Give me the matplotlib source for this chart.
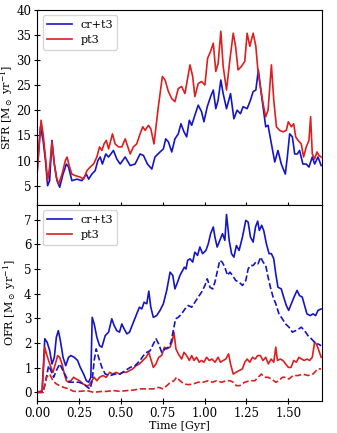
import numpy as np
import matplotlib
matplotlib.use("Agg")
import matplotlib.pyplot as plt
from matplotlib.ticker import FormatStrFormatter

plt.rcParams['font.family'] = ['DejaVu Serif']
plt.rcParams['mathtext.fontset'] = 'dejavuserif'

# ---- SFR panel ----
t_sfr_cr = [0, 0.02, 0.036, 0.05, 0.063, 0.075, 0.089, 0.103, 0.119, 0.135, 0.155, 0.175, 0.188, 0.208,
            0.238, 0.268, 0.294, 0.308, 0.327, 0.347, 0.363, 0.377, 0.39, 0.41, 0.427, 0.456, 0.476, 0.496,
            0.526, 0.556, 0.585, 0.615, 0.635, 0.659, 0.685, 0.704, 0.734, 0.754, 0.768, 0.784, 0.804, 0.823,
            0.843, 0.859, 0.877, 0.893, 0.909, 0.923, 0.942, 0.962, 0.982, 0.996, 1.016, 1.036, 1.052, 1.067,
            1.081, 1.097, 1.111, 1.131, 1.155, 1.175, 1.194, 1.214, 1.23, 1.254, 1.274, 1.29, 1.306, 1.321,
            1.333, 1.349, 1.365, 1.379, 1.399, 1.419, 1.438, 1.458, 1.482, 1.494, 1.508, 1.524, 1.538, 1.554,
            1.567, 1.587, 1.607, 1.623, 1.643, 1.657, 1.677, 1.696]
sfr_cr = [7.7, 16.7, 14.0, 10.0, 5.0, 6.0, 14.0, 9.3, 6.0, 4.7, 7.3, 9.3, 8.7, 6.0,
          6.3, 6.0, 7.3, 6.3, 7.3, 8.0, 10.0, 10.7, 9.3, 11.3, 10.7, 12.0, 10.3, 9.3,
          10.7, 9.0, 9.3, 11.3, 11.0, 9.3, 8.3, 10.7, 11.7, 12.3, 14.3, 13.7, 11.7, 14.3,
          15.3, 17.3, 15.7, 14.7, 18.0, 17.0, 19.0, 21.0, 19.7, 17.7, 20.7, 22.7, 24.0, 20.3,
          22.0, 26.0, 23.3, 20.3, 23.3, 18.3, 20.0, 19.3, 20.7, 20.3, 22.0, 23.7, 24.0, 28.0,
          24.7, 20.7, 16.7, 17.0, 13.3, 9.7, 12.0, 9.3, 7.3, 10.7, 15.3, 14.7, 11.3, 11.3,
          12.0, 9.3, 9.3, 8.7, 10.7, 9.3, 10.7, 9.0]

t_sfr_pt = [0, 0.024, 0.036, 0.05, 0.063, 0.075, 0.089, 0.1, 0.115, 0.129, 0.149, 0.169, 0.179, 0.194,
            0.208, 0.228, 0.258, 0.278, 0.298, 0.317, 0.337, 0.357, 0.373, 0.387, 0.4, 0.413, 0.427, 0.45,
            0.466, 0.486, 0.506, 0.526, 0.542, 0.556, 0.575, 0.595, 0.615, 0.631, 0.645, 0.665, 0.679, 0.698,
            0.724, 0.748, 0.764, 0.784, 0.804, 0.823, 0.843, 0.863, 0.883, 0.897, 0.913, 0.929, 0.942, 0.962,
            0.982, 1.002, 1.018, 1.036, 1.052, 1.067, 1.081, 1.097, 1.111, 1.131, 1.151, 1.171, 1.185, 1.2,
            1.22, 1.24, 1.254, 1.27, 1.29, 1.306, 1.319, 1.333, 1.349, 1.365, 1.379, 1.399, 1.413, 1.429,
            1.448, 1.468, 1.488, 1.5, 1.518, 1.532, 1.544, 1.558, 1.577, 1.591, 1.607, 1.623, 1.633, 1.643,
            1.657, 1.671, 1.683, 1.696]
sfr_pt = [7.3, 18.0, 15.3, 10.7, 6.0, 8.7, 13.7, 10.0, 6.7, 5.3, 7.3, 10.0, 10.7, 8.7,
          7.3, 7.0, 6.7, 6.3, 8.0, 8.7, 9.3, 10.7, 12.7, 12.0, 13.3, 14.0, 12.3, 15.3,
          13.3, 12.7, 12.7, 14.3, 12.7, 11.3, 12.7, 13.3, 15.3, 16.7, 16.0, 17.0, 16.3, 13.3,
          20.7, 26.7, 26.0, 23.7, 22.3, 21.7, 24.3, 24.7, 23.3, 26.0, 29.0, 26.7, 22.7, 25.3,
          25.7, 25.0, 30.3, 31.7, 33.3, 27.7, 29.3, 35.7, 28.7, 24.0, 30.0, 35.3, 32.7, 28.0,
          28.7, 29.7, 35.3, 32.7, 35.3, 32.7, 27.7, 24.7, 21.3, 18.7, 20.0, 29.0, 22.0, 16.7,
          16.0, 15.7, 16.0, 17.7, 16.7, 17.3, 14.7, 14.0, 13.3, 10.7, 12.7, 14.0, 18.7, 11.3,
          10.3, 11.7, 11.0, 10.7]

# ---- OFR panel ----
t_ofr_cr = [0, 0.03, 0.046, 0.06, 0.075, 0.089, 0.103, 0.115, 0.127, 0.139, 0.155, 0.171, 0.188, 0.202,
            0.222, 0.242, 0.258, 0.278, 0.294, 0.308, 0.321, 0.329, 0.341, 0.357, 0.373, 0.387, 0.407, 0.427,
            0.446, 0.46, 0.476, 0.492, 0.506, 0.52, 0.536, 0.552, 0.571, 0.595, 0.611, 0.625, 0.639, 0.655,
            0.667, 0.679, 0.694, 0.714, 0.734, 0.754, 0.774, 0.794, 0.81, 0.823, 0.839, 0.853, 0.869, 0.879,
            0.889, 0.899, 0.913, 0.929, 0.942, 0.958, 0.972, 0.988, 1.008, 1.022, 1.036, 1.052, 1.062, 1.075,
            1.091, 1.107, 1.121, 1.131, 1.147, 1.161, 1.175, 1.19, 1.206, 1.226, 1.246, 1.26, 1.274, 1.29,
            1.304, 1.317, 1.327, 1.341, 1.353, 1.369, 1.385, 1.399, 1.413, 1.425, 1.438, 1.458, 1.472, 1.488,
            1.502, 1.518, 1.534, 1.552, 1.567, 1.583, 1.597, 1.611, 1.631, 1.647, 1.663, 1.677, 1.696]
ofr_cr = [0, 0, 2.17, 2.03, 1.7, 1.15, 1.42, 2.23, 2.5, 2.1, 1.42, 1.08, 1.42, 1.49,
          1.42, 1.29, 1.01, 0.74, 0.47, 0.41, 0.61, 3.04, 2.77, 2.23, 1.89, 1.83, 2.3, 2.44,
          2.98, 2.71, 2.5, 2.44, 2.77, 2.57, 2.37, 2.44, 2.77, 3.18, 3.45, 3.38, 3.65, 3.59,
          4.1, 3.45, 3.04, 3.11, 3.32, 3.59, 4.13, 4.87, 4.74, 4.19, 4.47, 4.74, 4.94, 5.07,
          5.0, 5.35, 5.41, 5.28, 5.68, 5.55, 5.89, 5.62, 5.75, 6.02, 6.43, 6.7, 6.29, 5.89,
          6.16, 6.43, 6.16, 7.21, 6.16, 5.62, 5.48, 5.95, 5.75, 6.29, 6.97, 6.9, 6.29, 6.09,
          6.7, 6.94, 6.56, 6.77, 6.56, 6.02, 5.62, 5.62, 5.41, 4.8, 4.26, 4.19, 3.86, 3.52,
          3.32, 3.59, 3.86, 4.13, 3.92, 3.86, 3.52, 3.18, 3.11, 3.18, 3.11, 3.32, 3.38]

t_ofr_cr_d = [0, 0.036, 0.05, 0.069, 0.083, 0.099, 0.115, 0.135, 0.155, 0.175, 0.194, 0.218, 0.248, 0.278,
              0.302, 0.317, 0.329, 0.341, 0.353, 0.367, 0.387, 0.407, 0.437, 0.466, 0.496, 0.526, 0.556, 0.585,
              0.615, 0.635, 0.655, 0.675, 0.694, 0.71, 0.726, 0.744, 0.764, 0.784, 0.8, 0.813, 0.827, 0.843,
              0.863, 0.883, 0.903, 0.923, 0.942, 0.962, 0.982, 1.002, 1.016, 1.032, 1.048, 1.062, 1.075, 1.091,
              1.105, 1.121, 1.137, 1.151, 1.167, 1.186, 1.206, 1.226, 1.246, 1.26, 1.274, 1.29, 1.306, 1.319,
              1.335, 1.349, 1.365, 1.379, 1.393, 1.409, 1.425, 1.444, 1.464, 1.484, 1.504, 1.524, 1.544, 1.563,
              1.577, 1.597, 1.617, 1.637, 1.657, 1.677, 1.696]
ofr_cr_d = [0, 0, 0.41, 1.08, 0.88, 0.61, 0.88, 1.15, 0.88, 0.61, 0.41, 0.41, 0.41, 0.34,
            0.2, 0.14, 0.47, 1.29, 1.76, 1.42, 1.01, 0.74, 0.68, 0.74, 0.74, 0.88, 1.01, 1.08,
            1.29, 1.49, 1.62, 1.69, 1.96, 2.17, 1.96, 1.62, 1.76, 1.83, 2.03, 2.5, 2.98, 3.04,
            3.18, 3.38, 3.52, 3.45, 3.65, 3.86, 4.06, 4.33, 4.6, 4.26, 4.19, 4.47, 4.87, 5.35,
            5.28, 5.07, 4.74, 4.87, 4.74, 4.53, 4.47, 4.33, 4.53, 5.0, 5.14, 5.14, 5.28, 5.21,
            5.48, 5.28, 5.14, 4.67, 4.26, 3.86, 3.59, 3.18, 2.98, 2.77, 2.64, 2.44, 2.5, 2.57,
            2.64, 2.5, 2.3, 2.17, 2.03, 1.96, 1.89]

t_ofr_pt = [0, 0.03, 0.046, 0.056, 0.069, 0.083, 0.095, 0.109, 0.123, 0.135, 0.149, 0.163, 0.175, 0.188,
            0.202, 0.218, 0.234, 0.254, 0.274, 0.294, 0.308, 0.327, 0.341, 0.357, 0.373, 0.393, 0.413, 0.433,
            0.452, 0.472, 0.492, 0.512, 0.532, 0.552, 0.571, 0.591, 0.611, 0.631, 0.651, 0.667, 0.679, 0.694,
            0.71, 0.726, 0.744, 0.76, 0.774, 0.794, 0.808, 0.817, 0.829, 0.843, 0.863, 0.877, 0.893, 0.909,
            0.923, 0.937, 0.952, 0.968, 0.982, 0.996, 1.012, 1.028, 1.044, 1.062, 1.081, 1.095, 1.111, 1.127,
            1.143, 1.155, 1.171, 1.187, 1.206, 1.226, 1.24, 1.254, 1.27, 1.286, 1.302, 1.317, 1.333, 1.349,
            1.365, 1.381, 1.397, 1.413, 1.425, 1.435, 1.452, 1.468, 1.484, 1.5, 1.516, 1.532, 1.548, 1.563,
            1.579, 1.595, 1.611, 1.627, 1.643, 1.657, 1.667, 1.679, 1.696]
ofr_pt = [0, 0.07, 1.83, 1.56, 1.29, 1.01, 0.81, 1.15, 1.49, 1.42, 1.15, 0.74, 0.47, 0.41,
          0.47, 0.61, 0.54, 0.47, 0.34, 0.27, 0.27, 0.47, 0.61, 0.47, 0.61, 0.68, 0.61, 0.81,
          0.74, 0.81, 0.74, 0.81, 0.81, 0.88, 0.95, 1.08, 1.15, 1.29, 1.42, 1.62, 1.35, 1.01,
          1.15, 1.42, 1.49, 1.83, 1.76, 1.83, 2.1, 2.44, 1.76, 1.56, 1.35, 1.62, 1.49, 1.29,
          1.49, 1.29, 1.42, 1.22, 1.29, 1.22, 1.42, 1.29, 1.35, 1.22, 1.42, 1.22, 1.29, 1.35,
          1.56, 1.15, 0.74, 0.81, 0.88, 0.95, 1.22, 1.35, 1.22, 1.42, 1.35, 1.49, 1.49, 1.29,
          1.42, 1.15, 1.35, 1.22, 1.83, 1.29, 1.35, 1.29, 1.15, 1.01, 1.01, 1.29, 1.22, 1.42,
          1.35, 1.29, 1.35, 1.29, 1.42, 2.03, 1.96, 1.76, 1.42]

t_ofr_pt_d = [0, 0.036, 0.056, 0.075, 0.095, 0.115, 0.135, 0.159, 0.188, 0.218, 0.258, 0.298, 0.337, 0.377,
              0.417, 0.456, 0.496, 0.536, 0.575, 0.615, 0.655, 0.694, 0.724, 0.754, 0.774, 0.798, 0.817, 0.833,
              0.853, 0.877, 0.903, 0.933, 0.962, 0.992, 1.022, 1.048, 1.071, 1.101, 1.131, 1.151, 1.171, 1.19,
              1.21, 1.24, 1.27, 1.3, 1.32, 1.339, 1.359, 1.379, 1.399, 1.425, 1.444, 1.464, 1.484, 1.504,
              1.528, 1.558, 1.587, 1.617, 1.647, 1.677, 1.696]
ofr_pt_d = [0, 0, 0.61, 0.74, 0.47, 0.34, 0.27, 0.2, 0.14, 0.04, 0.04, 0.07, 0.0, 0.03,
            0.04, 0.07, 0.04, 0.07, 0.09, 0.14, 0.14, 0.14, 0.2, 0.14, 0.27, 0.41, 0.47, 0.61,
            0.47, 0.34, 0.31, 0.34, 0.41, 0.41, 0.47, 0.41, 0.47, 0.41, 0.47, 0.47, 0.41, 0.27,
            0.27, 0.41, 0.47, 0.47, 0.61, 0.74, 0.61, 0.61, 0.54, 0.41, 0.47, 0.61, 0.61, 0.54,
            0.68, 0.68, 0.74, 0.68, 0.74, 0.95, 0.95]

blue = "#1515c8"
red = "#dd1f1f"
lw = 1.2

fig = plt.figure(figsize=(3.37, 4.33), dpi=100)
ax1 = fig.add_axes([0.110, 0.527, 0.845, 0.451])
ax2 = fig.add_axes([0.110, 0.074, 0.845, 0.453])

ax1.plot(t_sfr_cr, sfr_cr, color=blue, lw=lw, label="cr+t3")
ax1.plot(t_sfr_pt, sfr_pt, color=red, lw=lw, label="pt3")
ax1.set_xlim(0, 1.7)
ax1.set_ylim(1.2, 40)
ax1.set_yticks(np.arange(5, 41, 5))
ax1.set_xticks([0, 0.25, 0.5, 0.75, 1.0, 1.25, 1.5])
ax1.set_xticklabels([])
ax1.set_ylabel(r"SFR [M$_\odot$ yr$^{-1}$]", fontsize=8, labelpad=1)
ax1.legend(loc="upper left", fontsize=8, handlelength=2.2)

ax2.plot(t_ofr_cr, ofr_cr, color=blue, lw=lw, label="cr+t3")
ax2.plot(t_ofr_pt, ofr_pt, color=red, lw=lw, label="pt3")
ax2.plot(t_ofr_cr_d, ofr_cr_d, color=blue, lw=lw, ls="--")
ax2.plot(t_ofr_pt_d, ofr_pt_d, color=red, lw=lw, ls="--")
ax2.set_xlim(0, 1.7)
ax2.set_ylim(-0.35, 7.6)
ax2.set_yticks(range(0, 8))
ax2.set_xticks([0, 0.25, 0.5, 0.75, 1.0, 1.25, 1.5])
ax2.xaxis.set_major_formatter(FormatStrFormatter("%.2f"))
ax2.set_xlabel("Time [Gyr]", fontsize=8, labelpad=1)
ax2.set_ylabel(r"OFR [M$_\odot$ yr$^{-1}$]", fontsize=8, labelpad=4)
ax2.legend(loc="upper left", fontsize=8, handlelength=2.2)

for ax in (ax1, ax2):
    ax.tick_params(direction="inout", length=5, labelsize=8.5, pad=1.5)

fig.savefig("out.png", dpi=100)
